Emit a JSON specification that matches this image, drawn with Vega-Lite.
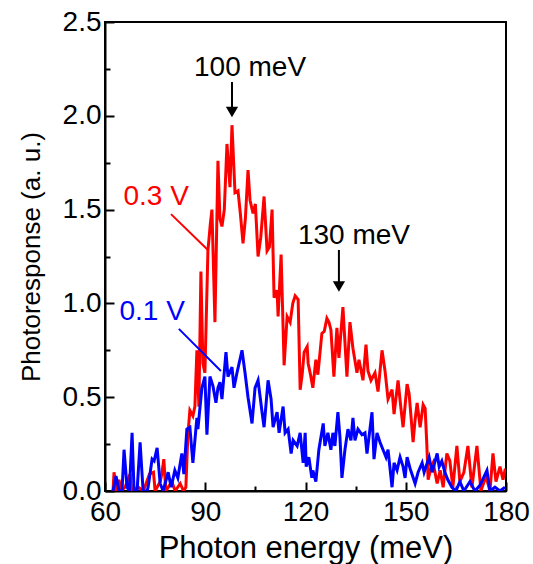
{
  "$schema": "https://vega.github.io/schema/vega-lite/v6.json",
  "width": 401,
  "height": 469,
  "autosize": {"type": "none"},
  "padding": {"left": 105, "top": 22, "right": 27, "bottom": 73},
  "background": "white",
  "config": {
    "view": {"stroke": "#000000", "strokeWidth": 2},
    "axis": {
      "grid": false,
      "domainColor": "#000000",
      "domainWidth": 2,
      "tickColor": "#000000",
      "tickWidth": 2,
      "labelColor": "#000000",
      "titleColor": "#000000",
      "labelFont": "Liberation Sans",
      "titleFont": "Liberation Sans",
      "titleFontWeight": "normal",
      "labelFlush": false,
      "labelOverlap": false
    }
  },
  "datasets": {
    "curves": [
      {"E":62.4,"R":0.0,"s":"0.3 V"},{"E":62.7,"R":0.10,"s":"0.3 V"},{"E":63.4,"R":0.0,"s":"0.3 V"},{"E":64.2,"R":0.06,"s":"0.3 V"},{"E":64.8,"R":0.0,"s":"0.3 V"},{"E":66.0,"R":0.02,"s":"0.3 V"},{"E":67.5,"R":0.09,"s":"0.3 V"},{"E":68.0,"R":0.0,"s":"0.3 V"},{"E":70.0,"R":0.02,"s":"0.3 V"},{"E":71.5,"R":0.0,"s":"0.3 V"},{"E":73.3,"R":0.09,"s":"0.3 V"},{"E":74.5,"R":0.10,"s":"0.3 V"},{"E":75.0,"R":0.0,"s":"0.3 V"},{"E":76.5,"R":0.05,"s":"0.3 V"},{"E":77.0,"R":0.09,"s":"0.3 V"},{"E":77.6,"R":0.17,"s":"0.3 V"},{"E":78.2,"R":0.0,"s":"0.3 V"},{"E":80.0,"R":0.05,"s":"0.3 V"},{"E":81.0,"R":0.0,"s":"0.3 V"},{"E":82.5,"R":0.04,"s":"0.3 V"},{"E":83.5,"R":0.0,"s":"0.3 V"},{"E":84.2,"R":0.02,"s":"0.3 V"},{"E":84.8,"R":0.30,"s":"0.3 V"},{"E":85.4,"R":0.43,"s":"0.3 V"},{"E":86.3,"R":0.40,"s":"0.3 V"},{"E":86.9,"R":0.45,"s":"0.3 V"},{"E":87.5,"R":0.75,"s":"0.3 V"},{"E":88.1,"R":0.45,"s":"0.3 V"},{"E":88.7,"R":1.17,"s":"0.3 V"},{"E":89.3,"R":0.68,"s":"0.3 V"},{"E":89.9,"R":0.63,"s":"0.3 V"},{"E":90.8,"R":1.28,"s":"0.3 V"},{"E":91.5,"R":1.42,"s":"0.3 V"},{"E":92.0,"R":1.50,"s":"0.3 V"},{"E":92.9,"R":0.90,"s":"0.3 V"},{"E":93.8,"R":1.76,"s":"0.3 V"},{"E":94.4,"R":1.45,"s":"0.3 V"},{"E":95.0,"R":1.41,"s":"0.3 V"},{"E":95.7,"R":1.50,"s":"0.3 V"},{"E":96.5,"R":1.85,"s":"0.3 V"},{"E":97.4,"R":1.62,"s":"0.3 V"},{"E":98.0,"R":1.95,"s":"0.3 V"},{"E":98.9,"R":1.59,"s":"0.3 V"},{"E":99.8,"R":1.60,"s":"0.3 V"},{"E":100.5,"R":1.48,"s":"0.3 V"},{"E":101.3,"R":1.32,"s":"0.3 V"},{"E":102.0,"R":1.45,"s":"0.3 V"},{"E":102.8,"R":1.71,"s":"0.3 V"},{"E":103.4,"R":1.55,"s":"0.3 V"},{"E":104.3,"R":1.48,"s":"0.3 V"},{"E":105.0,"R":1.53,"s":"0.3 V"},{"E":105.8,"R":1.25,"s":"0.3 V"},{"E":106.6,"R":1.35,"s":"0.3 V"},{"E":107.6,"R":1.57,"s":"0.3 V"},{"E":108.5,"R":1.28,"s":"0.3 V"},{"E":109.2,"R":1.30,"s":"0.3 V"},{"E":110.0,"R":1.50,"s":"0.3 V"},{"E":110.6,"R":1.03,"s":"0.3 V"},{"E":111.5,"R":1.07,"s":"0.3 V"},{"E":111.8,"R":0.93,"s":"0.3 V"},{"E":112.7,"R":1.26,"s":"0.3 V"},{"E":113.6,"R":0.67,"s":"0.3 V"},{"E":114.5,"R":0.93,"s":"0.3 V"},{"E":115.4,"R":0.90,"s":"0.3 V"},{"E":116.2,"R":1.00,"s":"0.3 V"},{"E":116.9,"R":1.04,"s":"0.3 V"},{"E":117.8,"R":1.02,"s":"0.3 V"},{"E":118.4,"R":0.54,"s":"0.3 V"},{"E":119.0,"R":0.62,"s":"0.3 V"},{"E":119.6,"R":0.74,"s":"0.3 V"},{"E":120.5,"R":0.77,"s":"0.3 V"},{"E":120.8,"R":0.68,"s":"0.3 V"},{"E":121.5,"R":0.62,"s":"0.3 V"},{"E":122.2,"R":0.55,"s":"0.3 V"},{"E":123.1,"R":0.70,"s":"0.3 V"},{"E":123.7,"R":0.62,"s":"0.3 V"},{"E":124.9,"R":0.84,"s":"0.3 V"},{"E":125.6,"R":0.85,"s":"0.3 V"},{"E":126.4,"R":0.92,"s":"0.3 V"},{"E":127.0,"R":0.90,"s":"0.3 V"},{"E":127.6,"R":0.86,"s":"0.3 V"},{"E":128.5,"R":0.61,"s":"0.3 V"},{"E":129.4,"R":0.87,"s":"0.3 V"},{"E":130.0,"R":0.71,"s":"0.3 V"},{"E":131.2,"R":0.98,"s":"0.3 V"},{"E":132.4,"R":0.61,"s":"0.3 V"},{"E":133.3,"R":0.90,"s":"0.3 V"},{"E":134.2,"R":0.76,"s":"0.3 V"},{"E":135.4,"R":0.63,"s":"0.3 V"},{"E":136.0,"R":0.70,"s":"0.3 V"},{"E":137.2,"R":0.59,"s":"0.3 V"},{"E":138.1,"R":0.78,"s":"0.3 V"},{"E":138.7,"R":0.64,"s":"0.3 V"},{"E":139.6,"R":0.59,"s":"0.3 V"},{"E":140.8,"R":0.63,"s":"0.3 V"},{"E":141.7,"R":0.53,"s":"0.3 V"},{"E":142.9,"R":0.75,"s":"0.3 V"},{"E":143.8,"R":0.64,"s":"0.3 V"},{"E":144.7,"R":0.49,"s":"0.3 V"},{"E":145.9,"R":0.54,"s":"0.3 V"},{"E":146.5,"R":0.41,"s":"0.3 V"},{"E":147.7,"R":0.59,"s":"0.3 V"},{"E":148.5,"R":0.45,"s":"0.3 V"},{"E":149.2,"R":0.34,"s":"0.3 V"},{"E":150.4,"R":0.57,"s":"0.3 V"},{"E":151.0,"R":0.52,"s":"0.3 V"},{"E":152.2,"R":0.26,"s":"0.3 V"},{"E":152.8,"R":0.38,"s":"0.3 V"},{"E":153.4,"R":0.47,"s":"0.3 V"},{"E":154.3,"R":0.34,"s":"0.3 V"},{"E":155.2,"R":0.46,"s":"0.3 V"},{"E":155.8,"R":0.44,"s":"0.3 V"},{"E":156.3,"R":0.25,"s":"0.3 V"},{"E":156.7,"R":0.06,"s":"0.3 V"},{"E":157.5,"R":0.12,"s":"0.3 V"},{"E":158.2,"R":0.15,"s":"0.3 V"},{"E":159.4,"R":0.04,"s":"0.3 V"},{"E":160.3,"R":0.11,"s":"0.3 V"},{"E":161.2,"R":0.02,"s":"0.3 V"},{"E":162.3,"R":0.20,"s":"0.3 V"},{"E":163.2,"R":0.16,"s":"0.3 V"},{"E":164.1,"R":0.02,"s":"0.3 V"},{"E":165.3,"R":0.24,"s":"0.3 V"},{"E":166.2,"R":0.05,"s":"0.3 V"},{"E":167.4,"R":0.10,"s":"0.3 V"},{"E":168.6,"R":0.24,"s":"0.3 V"},{"E":169.8,"R":0.02,"s":"0.3 V"},{"E":171.3,"R":0.24,"s":"0.3 V"},{"E":172.5,"R":0.0,"s":"0.3 V"},{"E":174.0,"R":0.08,"s":"0.3 V"},{"E":175.2,"R":0.0,"s":"0.3 V"},{"E":176.1,"R":0.20,"s":"0.3 V"},{"E":177.0,"R":0.05,"s":"0.3 V"},{"E":178.2,"R":0.13,"s":"0.3 V"},{"E":179.1,"R":0.06,"s":"0.3 V"},{"E":179.8,"R":0.12,"s":"0.3 V"},
      {"E":62.4,"R":0.0,"s":"0.1 V"},{"E":63.3,"R":0.08,"s":"0.1 V"},{"E":64.2,"R":0.0,"s":"0.1 V"},{"E":65.1,"R":0.0,"s":"0.1 V"},{"E":65.7,"R":0.22,"s":"0.1 V"},{"E":66.6,"R":0.02,"s":"0.1 V"},{"E":67.3,"R":0.0,"s":"0.1 V"},{"E":68.1,"R":0.31,"s":"0.1 V"},{"E":68.7,"R":0.0,"s":"0.1 V"},{"E":69.6,"R":0.0,"s":"0.1 V"},{"E":70.5,"R":0.26,"s":"0.1 V"},{"E":71.4,"R":0.0,"s":"0.1 V"},{"E":72.6,"R":0.0,"s":"0.1 V"},{"E":72.9,"R":0.02,"s":"0.1 V"},{"E":74.1,"R":0.17,"s":"0.1 V"},{"E":74.7,"R":0.16,"s":"0.1 V"},{"E":75.6,"R":0.23,"s":"0.1 V"},{"E":76.5,"R":0.04,"s":"0.1 V"},{"E":77.4,"R":0.0,"s":"0.1 V"},{"E":78.9,"R":0.10,"s":"0.1 V"},{"E":79.8,"R":0.02,"s":"0.1 V"},{"E":80.9,"R":0.11,"s":"0.1 V"},{"E":81.8,"R":0.07,"s":"0.1 V"},{"E":83.0,"R":0.20,"s":"0.1 V"},{"E":83.6,"R":0.09,"s":"0.1 V"},{"E":84.5,"R":0.33,"s":"0.1 V"},{"E":85.4,"R":0.34,"s":"0.1 V"},{"E":86.3,"R":0.15,"s":"0.1 V"},{"E":87.5,"R":0.39,"s":"0.1 V"},{"E":87.8,"R":0.33,"s":"0.1 V"},{"E":89.0,"R":0.55,"s":"0.1 V"},{"E":89.9,"R":0.61,"s":"0.1 V"},{"E":90.5,"R":0.30,"s":"0.1 V"},{"E":91.4,"R":0.61,"s":"0.1 V"},{"E":92.3,"R":0.56,"s":"0.1 V"},{"E":93.2,"R":0.47,"s":"0.1 V"},{"E":93.8,"R":0.55,"s":"0.1 V"},{"E":94.4,"R":0.58,"s":"0.1 V"},{"E":95.0,"R":0.49,"s":"0.1 V"},{"E":96.2,"R":0.74,"s":"0.1 V"},{"E":96.8,"R":0.61,"s":"0.1 V"},{"E":98.0,"R":0.66,"s":"0.1 V"},{"E":98.6,"R":0.55,"s":"0.1 V"},{"E":99.5,"R":0.63,"s":"0.1 V"},{"E":101.0,"R":0.75,"s":"0.1 V"},{"E":101.9,"R":0.63,"s":"0.1 V"},{"E":102.8,"R":0.50,"s":"0.1 V"},{"E":104.0,"R":0.36,"s":"0.1 V"},{"E":104.9,"R":0.55,"s":"0.1 V"},{"E":105.8,"R":0.59,"s":"0.1 V"},{"E":107.0,"R":0.42,"s":"0.1 V"},{"E":107.6,"R":0.34,"s":"0.1 V"},{"E":108.8,"R":0.59,"s":"0.1 V"},{"E":109.7,"R":0.49,"s":"0.1 V"},{"E":110.3,"R":0.34,"s":"0.1 V"},{"E":111.5,"R":0.42,"s":"0.1 V"},{"E":112.1,"R":0.31,"s":"0.1 V"},{"E":113.3,"R":0.45,"s":"0.1 V"},{"E":113.9,"R":0.31,"s":"0.1 V"},{"E":114.8,"R":0.33,"s":"0.1 V"},{"E":115.7,"R":0.20,"s":"0.1 V"},{"E":116.3,"R":0.27,"s":"0.1 V"},{"E":117.5,"R":0.24,"s":"0.1 V"},{"E":118.4,"R":0.31,"s":"0.1 V"},{"E":119.3,"R":0.15,"s":"0.1 V"},{"E":119.9,"R":0.31,"s":"0.1 V"},{"E":120.2,"R":0.13,"s":"0.1 V"},{"E":121.0,"R":0.18,"s":"0.1 V"},{"E":121.9,"R":0.07,"s":"0.1 V"},{"E":122.2,"R":0.11,"s":"0.1 V"},{"E":123.1,"R":0.05,"s":"0.1 V"},{"E":124.0,"R":0.22,"s":"0.1 V"},{"E":125.3,"R":0.36,"s":"0.1 V"},{"E":125.8,"R":0.24,"s":"0.1 V"},{"E":126.7,"R":0.31,"s":"0.1 V"},{"E":127.6,"R":0.22,"s":"0.1 V"},{"E":128.2,"R":0.31,"s":"0.1 V"},{"E":128.8,"R":0.24,"s":"0.1 V"},{"E":129.7,"R":0.42,"s":"0.1 V"},{"E":130.3,"R":0.29,"s":"0.1 V"},{"E":130.9,"R":0.07,"s":"0.1 V"},{"E":131.8,"R":0.22,"s":"0.1 V"},{"E":132.7,"R":0.33,"s":"0.1 V"},{"E":133.6,"R":0.27,"s":"0.1 V"},{"E":134.2,"R":0.39,"s":"0.1 V"},{"E":134.8,"R":0.27,"s":"0.1 V"},{"E":135.7,"R":0.33,"s":"0.1 V"},{"E":136.9,"R":0.30,"s":"0.1 V"},{"E":137.8,"R":0.31,"s":"0.1 V"},{"E":138.4,"R":0.20,"s":"0.1 V"},{"E":139.9,"R":0.42,"s":"0.1 V"},{"E":140.5,"R":0.17,"s":"0.1 V"},{"E":141.4,"R":0.31,"s":"0.1 V"},{"E":142.3,"R":0.26,"s":"0.1 V"},{"E":143.2,"R":0.22,"s":"0.1 V"},{"E":144.1,"R":0.18,"s":"0.1 V"},{"E":144.7,"R":0.22,"s":"0.1 V"},{"E":145.9,"R":0.02,"s":"0.1 V"},{"E":146.5,"R":0.15,"s":"0.1 V"},{"E":147.4,"R":0.11,"s":"0.1 V"},{"E":148.3,"R":0.18,"s":"0.1 V"},{"E":149.2,"R":0.13,"s":"0.1 V"},{"E":149.8,"R":0.07,"s":"0.1 V"},{"E":150.4,"R":0.18,"s":"0.1 V"},{"E":151.3,"R":0.12,"s":"0.1 V"},{"E":152.8,"R":0.04,"s":"0.1 V"},{"E":153.7,"R":0.10,"s":"0.1 V"},{"E":154.9,"R":0.15,"s":"0.1 V"},{"E":155.5,"R":0.10,"s":"0.1 V"},{"E":157.0,"R":0.18,"s":"0.1 V"},{"E":157.9,"R":0.10,"s":"0.1 V"},{"E":159.4,"R":0.20,"s":"0.1 V"},{"E":160.0,"R":0.13,"s":"0.1 V"},{"E":160.8,"R":0.16,"s":"0.1 V"},{"E":161.7,"R":0.10,"s":"0.1 V"},{"E":162.6,"R":0.06,"s":"0.1 V"},{"E":163.8,"R":0.02,"s":"0.1 V"},{"E":165.0,"R":0.0,"s":"0.1 V"},{"E":166.2,"R":0.05,"s":"0.1 V"},{"E":167.4,"R":0.0,"s":"0.1 V"},{"E":169.2,"R":0.05,"s":"0.1 V"},{"E":170.7,"R":0.0,"s":"0.1 V"},{"E":172.2,"R":0.03,"s":"0.1 V"},{"E":174.3,"R":0.11,"s":"0.1 V"},{"E":175.2,"R":0.0,"s":"0.1 V"},{"E":176.7,"R":0.02,"s":"0.1 V"},{"E":178.2,"R":0.0,"s":"0.1 V"},{"E":179.7,"R":0.02,"s":"0.1 V"}
    ],
    "notes": [
      {"label": "100 meV", "E": 103.4, "R": 2.255, "s": "note"},
      {"label": "130 meV", "E": 134.5, "R": 1.36, "s": "note"},
      {"label": "0.3 V", "E": 75.3, "R": 1.567, "s": "0.3 V"},
      {"label": "0.1 V", "E": 74.1, "R": 0.954, "s": "0.1 V"}
    ],
    "pointers": [
      {"E": 79.75, "R": 1.476, "E2": 90.8, "R2": 1.285, "s": "0.3 V"},
      {"E": 82.1, "R": 0.864, "E2": 94.7, "R2": 0.64, "s": "0.1 V"}
    ],
    "arrows": [
      {"E": 98.0, "R": 2.18, "R2": 2.02},
      {"E": 130.0, "R": 1.285, "R2": 1.09}
    ]
  },
  "layer": [
    {
      "data": {"name": "curves"},
      "mark": {"type": "line", "strokeWidth": 3, "clip": true},
      "encoding": {
        "x": {
          "field": "E", "type": "quantitative",
          "scale": {"domain": [60, 180], "nice": false, "zero": false},
          "axis": {
            "orient": "bottom",
            "values": [60, 90, 120, 150, 180],
            "title": "Photon energy (meV)",
            "tickSize": -9,
            "labelFontSize": 28,
            "labelPadding": 16,
            "titleFontSize": 31,
            "titlePadding": 7
          }
        },
        "y": {
          "field": "R", "type": "quantitative",
          "scale": {"domain": [0, 2.5], "nice": false, "zero": true},
          "axis": {
            "orient": "left",
            "values": [0, 0.5, 1.0, 1.5, 2.0, 2.5],
            "format": ".1f",
            "title": "Photoresponse (a. u.)",
            "tickSize": -9,
            "labelFontSize": 28,
            "labelPadding": 13,
            "titleFontSize": 26,
            "titlePadding": 18
          }
        },
        "color": {
          "field": "s", "type": "nominal",
          "scale": {"domain": ["0.3 V", "0.1 V", "note"], "range": ["#ff0000", "#0000ff", "#000000"]},
          "legend": null
        },
        "order": {"field": "E", "type": "quantitative"}
      }
    },
    {
      "data": {"name": "curves"},
      "mark": {"type": "line", "strokeOpacity": 0},
      "encoding": {
        "x": {
          "field": "E", "type": "quantitative",
          "axis": {
            "orient": "bottom",
            "values": [75, 105, 135, 165],
            "labels": false,
            "domain": false,
            "title": null,
            "tickSize": -5
          }
        },
        "y": {
          "field": "R", "type": "quantitative",
          "axis": {
            "orient": "left",
            "values": [0.25, 0.75, 1.25, 1.75, 2.25],
            "labels": false,
            "domain": false,
            "title": null,
            "tickSize": -5
          }
        },
        "detail": {"field": "s", "type": "nominal"}
      }
    },
    {
      "data": {"name": "pointers"},
      "mark": {"type": "rule", "strokeWidth": 2},
      "encoding": {
        "x": {"field": "E", "type": "quantitative", "axis": null},
        "y": {"field": "R", "type": "quantitative", "axis": null},
        "x2": {"field": "E2"},
        "y2": {"field": "R2"},
        "color": {"field": "s", "type": "nominal", "legend": null}
      }
    },
    {
      "data": {"name": "arrows"},
      "mark": {"type": "rule", "strokeWidth": 2, "color": "#000000"},
      "encoding": {
        "x": {"field": "E", "type": "quantitative", "axis": null},
        "y": {"field": "R", "type": "quantitative", "axis": null},
        "y2": {"field": "R2"}
      }
    },
    {
      "data": {"name": "arrows"},
      "mark": {"type": "point", "shape": "triangle-down", "filled": true, "size": 150, "color": "#000000", "opacity": 1},
      "encoding": {
        "x": {"field": "E", "type": "quantitative", "axis": null},
        "y": {"field": "R2", "type": "quantitative", "axis": null}
      }
    },
    {
      "data": {"name": "notes"},
      "mark": {"type": "text", "font": "Liberation Sans", "fontSize": 28, "align": "center", "baseline": "middle"},
      "encoding": {
        "x": {"field": "E", "type": "quantitative", "axis": null},
        "y": {"field": "R", "type": "quantitative", "axis": null},
        "text": {"field": "label"},
        "color": {"field": "s", "type": "nominal", "legend": null}
      }
    }
  ],
  "resolve": {"axis": {"x": "independent", "y": "independent"}}
}
